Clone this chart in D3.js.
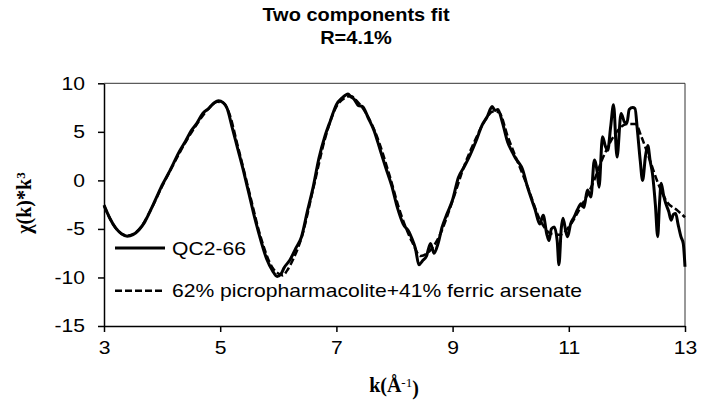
<!DOCTYPE html>
<html><head><meta charset="utf-8">
<script src="https://cdn.jsdelivr.net/npm/d3@7"></script>
<style>body{margin:0;background:#fff}svg{display:block}</style>
</head><body>
<script>
const titleLines = ["Two components fit", "R=4.1%"];
const seriesNames = ["QC2-66", "62% picropharmacolite+41% ferric arsenate"];
const xTicks = [3, 5, 7, 9, 11, 13];
const yTicks = [-15, -10, -5, 0, 5, 10];

const kData = [3.00,3.10,3.20,3.30,3.40,3.50,3.60,3.70,3.80,3.90,4.00,4.10,4.20,4.30,4.40,4.50,4.60,4.70,4.80,4.90,4.97,5.05,5.12,5.20,5.30,5.40,5.50,5.60,5.70,5.80,5.90,5.98,6.05,6.10,6.20,6.30,6.40,6.50,6.60,6.70,6.80,6.90,7.00,7.10,7.20,7.25,7.30,7.38,7.45,7.55,7.65,7.75,7.85,7.95,8.05,8.15,8.25,8.30,8.36,8.42,8.48,8.55,8.62,8.68,8.75,8.82,8.90,9.00,9.10,9.20,9.30,9.40,9.50,9.60,9.68,9.73,9.78,9.86,9.95,10.02,10.08,10.14,10.20,10.28,10.35,10.42,10.50,10.56,10.62,10.66,10.70,10.75,10.80,10.83,10.87,10.90,10.95,10.98,11.03,11.09,11.15,11.21,11.26,11.32,11.38,11.44,11.49,11.52,11.58,11.63,11.67,11.72,11.77,11.83,11.90,11.96,12.00,12.04,12.10,12.14,12.18,12.23,12.27,12.32,12.36,12.40,12.44,12.49,12.53,12.56,12.59,12.63,12.67,12.72,12.76,12.80,12.84,12.88,12.93,12.97,13.00];
const chiData = [-2.55,-3.9,-4.9,-5.5,-5.75,-5.6,-5.1,-4.3,-3.1,-1.8,-0.5,0.6,1.8,3.0,4.0,5.1,5.9,6.9,7.4,8.0,8.2,8.0,7.4,5.6,3.3,1.0,-1.5,-4.0,-6.2,-8.1,-9.3,-9.9,-9.6,-9.0,-8.2,-7.0,-5.8,-3.2,-0.7,2.3,4.5,6.2,7.8,8.5,8.9,8.6,8.4,7.7,7.6,6.4,5.1,3.2,1.3,-0.5,-2.8,-4.5,-5.3,-6.0,-7.0,-8.7,-8.3,-7.8,-6.5,-7.5,-6.5,-4.8,-3.5,-2.0,0.3,1.4,2.6,4.0,5.6,6.6,7.6,7.2,7.3,5.9,3.9,3.0,2.3,1.8,1.2,-0.5,-1.8,-3.0,-4.5,-3.6,-5.5,-6.2,-5.0,-4.8,-6.2,-8.7,-5.0,-3.9,-5.3,-5.8,-4.5,-3.8,-3.0,-2.4,-2.8,-1.0,-1.7,2.1,0.8,-0.7,4.5,3.5,3.1,5.5,7.8,2.4,6.9,6.0,5.9,7.3,7.5,7.4,5.2,2.0,0.0,2.5,3.6,2.0,0.7,-2.5,-5.8,-2.5,-0.3,-1.5,-2.4,-3.2,-4.1,-3.5,-3.4,-4.5,-5.8,-6.5,-8.9];

const kFit = [3.0,3.2,3.4,3.6,3.8,4.0,4.2,4.4,4.6,4.8,4.95,5.05,5.15,5.3,5.5,5.7,5.9,6.0,6.08,6.15,6.25,6.4,6.6,6.8,7.0,7.15,7.25,7.35,7.5,7.7,7.9,8.1,8.3,8.45,8.6,8.75,9.0,9.2,9.4,9.55,9.7,9.8,9.95,10.1,10.3,10.5,10.7,10.85,11.0,11.2,11.4,11.6,11.8,12.0,12.15,12.25,12.4,12.55,12.7,12.85,13.0];
const chiFit = [-2.6,-4.9,-5.7,-5.1,-3.1,-0.6,1.7,3.9,5.8,7.4,8.1,8.0,7.0,3.6,-1.2,-5.9,-9.0,-9.6,-9.8,-9.3,-8.2,-5.9,-0.9,4.2,7.6,8.5,8.7,8.2,7.0,4.5,0.8,-3.3,-6.3,-7.8,-7.3,-6.0,-2.1,1.5,4.3,6.1,7.1,7.0,4.5,2.2,-0.8,-4.0,-5.5,-5.6,-4.8,-2.8,-0.5,2.5,4.8,5.8,5.8,4.5,2.0,-0.5,-2.3,-3.0,-3.8];

const W = 701, H = 412;
const L = 104, R = 685, T = 83.3, B = 326;
const SX = 1.135;
const sans = "'Liberation Sans', Arial, sans-serif";
const serif = "'Liberation Serif', 'Times New Roman', serif";

const svg = d3.select("body").append("svg").attr("width", W).attr("height", H);
const x = d3.scaleLinear().domain([3, 13]).range([L, R]);
const y = d3.scaleLinear().domain([-15, 10]).range([B, T]);

function stretch(sel) {
  sel.each(function () {
    const len = this.getComputedTextLength();
    this.setAttribute("textLength", len * SX);
    this.setAttribute("lengthAdjust", "spacingAndGlyphs");
  });
}

// plot frame (top, right)
svg.append("path").attr("d", `M${L},${T}H${R}V${B}`).attr("fill", "none").attr("stroke", "#333").attr("stroke-width", 1);

// axes
const fmt = d => String(d);
const xAxis = svg.append("g").attr("transform", `translate(0,${B})`)
  .call(d3.axisBottom(x).tickValues(xTicks).tickFormat(fmt).tickSize(6).tickSizeOuter(0).tickPadding(9));
const yAxis = svg.append("g").attr("transform", `translate(${L},0)`)
  .call(d3.axisLeft(y).tickValues(yTicks).tickFormat(fmt).tickSize(6).tickSizeOuter(0).tickPadding(13));
[xAxis, yAxis].forEach(g => {
  g.select(".domain").attr("stroke", "#000").attr("stroke-width", 1.5);
  g.selectAll(".tick line").attr("stroke", "#000").attr("stroke-width", 1.5);
  g.selectAll(".tick text").attr("font-family", sans).attr("font-size", 18.6).attr("fill", "#000");
});
xAxis.selectAll(".tick text").attr("dy", "0.71em");
stretch(xAxis.selectAll(".tick text"));
stretch(yAxis.selectAll(".tick text"));

// lines
const line = d3.line().x(d => x(d[0])).y(d => y(d[1])).curve(d3.curveMonotoneX);
const plot = svg.append("g");
plot.append("path").datum(kFit.map((k, i) => [k, chiFit[i]]))
  .attr("d", line).attr("fill", "none").attr("stroke", "#000").attr("stroke-width", 2.5)
  .attr("stroke-dasharray", "7,3");
plot.append("path").datum(kData.map((k, i) => [k, chiData[i]]))
  .attr("d", line).attr("fill", "none").attr("stroke", "#000").attr("stroke-width", 3)
  .attr("stroke-linejoin", "round");

// legend
const legY = [248, 290.7];
const leg = svg.append("g");
legY.forEach((ly, i) => {
  leg.append("line").attr("x1", 115).attr("x2", 165).attr("y1", ly).attr("y2", ly)
    .attr("stroke", "#000").attr("stroke-width", i === 0 ? 3 : 2.5)
    .attr("stroke-dasharray", i === 0 ? null : "7,3");
  leg.append("text").attr("x", 172).attr("y", ly + 6.7).text(seriesNames[i])
    .attr("font-family", sans).attr("font-size", 18.6).attr("fill", "#000");
});
stretch(leg.selectAll("text"));

// title
const title = svg.append("g").attr("font-family", sans).attr("font-weight", "bold")
  .attr("font-size", 18.5).attr("text-anchor", "middle");
titleLines.forEach((t, i) => {
  title.append("text").attr("x", 356).attr("y", 21 + i * 22.5).text(t);
});
title.selectAll("text").each(function () {
  const len = this.getComputedTextLength();
  this.setAttribute("textLength", len * 1.08);
  this.setAttribute("lengthAdjust", "spacingAndGlyphs");
});

// y axis title
const yt = svg.append("text").attr("transform", "translate(31,203) rotate(-90)")
  .attr("text-anchor", "middle").attr("font-family", serif).attr("font-weight", "bold").attr("font-size", 20);
yt.append("tspan").text("χ(k)*k");
yt.append("tspan").attr("dy", "-0.45em").attr("font-size", 13).text("3");

// x axis title
const xt = svg.append("text").attr("x", 394).attr("y", 392)
  .attr("text-anchor", "middle").attr("font-family", serif).attr("font-weight", "bold").attr("font-size", 20);
xt.append("tspan").text("k(Å");
xt.append("tspan").attr("dy", "-0.4em").attr("font-size", 13).attr("font-weight", "normal").text("-1");
xt.append("tspan").attr("dy", "0.4em").text(")");
</script>
</body></html>
